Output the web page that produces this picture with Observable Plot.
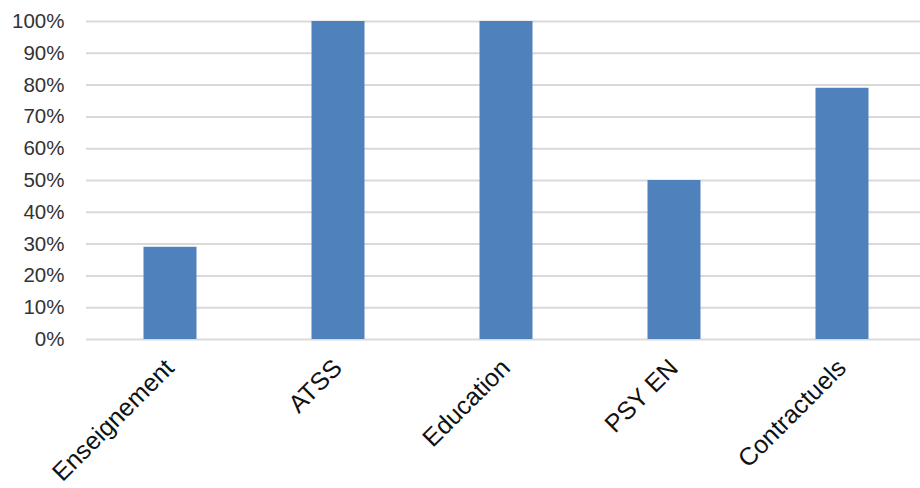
<!DOCTYPE html>
<html>
<head>
<meta charset="utf-8">
<script src="https://cdn.jsdelivr.net/npm/d3@7"></script>
<script src="https://cdn.jsdelivr.net/npm/@observablehq/plot@0.6"></script>
<style>
  html, body { margin: 0; padding: 0; background: #fff; }
  svg { display: block; }
</style>
</head>
<body>
<div id="chart"></div>
<script>
const categories = ["Enseignement", "ATSS", "Education", "PSY EN", "Contractuels"];
const values = [29, 100, 100, 50, 79];
const yTicks = [0, 10, 20, 30, 40, 50, 60, 70, 80, 90, 100];

const data = categories.map((c, i) => ({cat: c, value: values[i]}));

const chart = Plot.plot({
  width: 920,
  height: 488,
  marginLeft: 86,
  marginRight: 0,
  marginTop: 21,
  marginBottom: 149,
  style: {fontFamily: "'Liberation Sans', Arial, sans-serif", background: "#fff"},
  x: {domain: categories, range: [86, 926], padding: 0, axis: null},
  y: {domain: [0, 100], axis: null},
  marks: [
    Plot.ruleY(yTicks, {stroke: "#d9d9d9", strokeWidth: 2}),
    Plot.barY(data, {x: "cat", y: "value", fill: "#4f81bd", insetLeft: 57.5, insetRight: 57.5}),
    Plot.text(yTicks, {
      y: d => d, frameAnchor: "left", dx: -22, textAnchor: "end",
      text: d => d + "%", fontSize: 20.5, fill: "#333"
    }),
    Plot.text(data, {
      x: "cat", frameAnchor: "bottom", text: "cat", rotate: -45, textAnchor: "end",
      dx: 5, dy: 30, fontSize: 25, fill: "#111"
    })
  ]
});
document.getElementById("chart").appendChild(chart);
</script>
</body>
</html>
